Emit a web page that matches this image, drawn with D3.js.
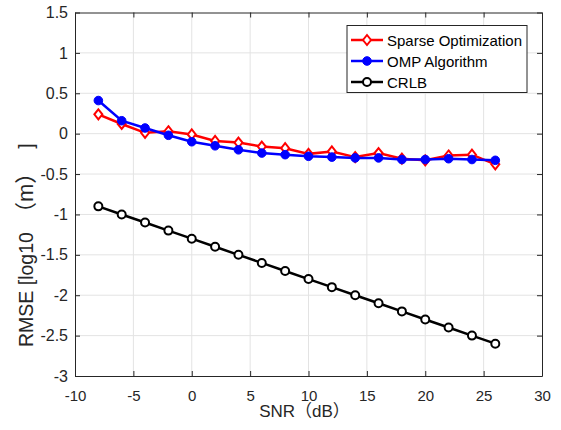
<!DOCTYPE html>
<html>
<head>
<meta charset="utf-8">
<script src="https://cdn.jsdelivr.net/npm/d3@7"></script>
<style>
  body { margin: 0; background: #fff; }
  svg { font-family: "Liberation Sans", Arial, "Noto Sans CJK SC", sans-serif; }
</style>
</head>
<body>
<div id="chart"></div>
<script>
var width = 561, height = 430;

var snr = [-8, -6, -4, -2, 0, 2, 4, 6, 8, 10, 12, 14, 16, 18, 20, 22, 24, 26];
var sparseOpt = [0.24, 0.12, 0.01, 0.03, -0.01, -0.09, -0.11, -0.16, -0.18, -0.25, -0.22, -0.29, -0.24, -0.31, -0.33, -0.27, -0.26, -0.38];
var ompAlg = [0.41, 0.16, 0.07, -0.02, -0.10, -0.15, -0.20, -0.24, -0.26, -0.28, -0.29, -0.30, -0.30, -0.32, -0.32, -0.31, -0.32, -0.33];
var crlb = [-0.9, -1.0, -1.1, -1.2, -1.3, -1.4, -1.5, -1.6, -1.7, -1.8, -1.9, -2.0, -2.1, -2.2, -2.3, -2.4, -2.5, -2.6];
var xTicks = [-10, -5, 0, 5, 10, 15, 20, 25, 30];
var yTicks = [-3, -2.5, -2, -1.5, -1, -0.5, 0, 0.5, 1, 1.5];
var seriesNames = ['Sparse Optimization', 'OMP Algorithm', 'CRLB'];

var mLeft = 75, mRight = 542, mTop = 12.5, mBottom = 376;
var axisColor = '#262626';
var cjkFont = '"Liberation Sans", Arial, "Noto Sans CJK SC", sans-serif';

var x = d3.scaleLinear().domain([-10, 30]).range([mLeft, mRight]);
var y = d3.scaleLinear().domain([-3, 1.5]).range([mBottom, mTop]);

var svg = d3.select('#chart').append('svg')
    .attr('width', width)
    .attr('height', height);

var fmt = (d) => String(d);

// grid
svg.append('g').selectAll('line').data(xTicks.slice(1, -1)).enter().append('line')
    .attr('x1', (d) => x(d)).attr('x2', (d) => x(d))
    .attr('y1', mTop).attr('y2', mBottom)
    .attr('stroke', '#e3e3e3').attr('stroke-width', 1);
svg.append('g').selectAll('line').data(yTicks.slice(1, -1)).enter().append('line')
    .attr('x1', mLeft).attr('x2', mRight)
    .attr('y1', (d) => y(d)).attr('y2', (d) => y(d))
    .attr('stroke', '#e3e3e3').attr('stroke-width', 1);

// axes (ticks inside, box on)
var xAxis = svg.append('g')
    .attr('transform', 'translate(0,' + mBottom + ')')
    .call(d3.axisBottom(x).tickValues(xTicks).tickSizeInner(-5).tickSizeOuter(0).tickPadding(14).tickFormat(fmt));
var yAxis = svg.append('g')
    .attr('transform', 'translate(' + mLeft + ',0)')
    .call(d3.axisLeft(y).tickValues(yTicks).tickSizeInner(-5).tickSizeOuter(0).tickFormat(fmt));
var xTop = svg.append('g')
    .attr('transform', 'translate(0,' + mTop + ')')
    .call(d3.axisTop(x).tickValues(xTicks).tickSizeInner(-5).tickSizeOuter(0).tickFormat(''));
var yRight = svg.append('g')
    .attr('transform', 'translate(' + mRight + ',0)')
    .call(d3.axisRight(y).tickValues(yTicks).tickSizeInner(-5).tickSizeOuter(0).tickFormat(''));

[xAxis, yAxis, xTop, yRight].forEach(function (a) {
    a.select('.domain').attr('stroke', axisColor);
    a.selectAll('.tick line').attr('stroke', axisColor);
    a.selectAll('.tick text').attr('fill', axisColor);
});
xAxis.selectAll('.tick text').attr('font-size', 15).attr('font-family', '"Liberation Sans", Arial, sans-serif');
yAxis.selectAll('.tick text').attr('font-size', 16).attr('font-family', '"Liberation Sans", Arial, sans-serif')
    .attr('x', -7);

// axis labels
svg.append('text')
    .attr('x', (mLeft + mRight) / 2 - 4)
    .attr('y', 417)
    .attr('text-anchor', 'middle')
    .attr('font-size', 17)
    .attr('font-family', cjkFont)
    .attr('fill', axisColor)
    .text('SNR（dB）');
var yl = svg.append('text')
    .attr('transform', 'translate(33,' + 347 + ') rotate(-90)')
    .attr('text-anchor', 'start')
    .attr('font-size', 19.5)
    .attr('font-family', cjkFont)
    .attr('fill', axisColor);
yl.append('tspan').text('RMSE [log10');
yl.append('tspan').attr('dx', 8).attr('font-size', 22).text('（m）');
yl.append('tspan').attr('dx', 24).text(']');

var line = d3.line().x((d) => x(d[0])).y((d) => y(d[1]));

var series = [
    { name: seriesNames[0], values: sparseOpt, color: '#ff0000', marker: 'diamond' },
    { name: seriesNames[1], values: ompAlg, color: '#0000ff', marker: 'dot' },
    { name: seriesNames[2], values: crlb, color: '#000000', marker: 'circle' }
];

function drawMarker(g, s, cx, cy) {
    if (s.marker === 'diamond') {
        var r = 5;
        g.append('path')
            .attr('d', 'M' + cx + ',' + (cy - r) + 'L' + (cx + r * 0.8) + ',' + cy + 'L' + cx + ',' + (cy + r) + 'L' + (cx - r * 0.8) + ',' + cy + 'Z')
            .attr('fill', '#fff').attr('stroke', s.color).attr('stroke-width', 2);
    } else if (s.marker === 'dot') {
        g.append('circle').attr('cx', cx).attr('cy', cy).attr('r', 4.3)
            .attr('fill', s.color).attr('stroke', s.color).attr('stroke-width', 1);
    } else {
        g.append('circle').attr('cx', cx).attr('cy', cy).attr('r', 4)
            .attr('fill', '#fff').attr('stroke', s.color).attr('stroke-width', 2);
    }
}

series.forEach(function (s) {
    var pts = snr.map((v, i) => [v, s.values[i]]);
    var g = svg.append('g');
    g.append('path')
        .datum(pts)
        .attr('d', line)
        .attr('fill', 'none')
        .attr('stroke', s.color)
        .attr('stroke-width', 2.5);
    pts.forEach(function (p) { drawMarker(g, s, x(p[0]), y(p[1])); });
});

// legend
var lg = svg.append('g');
lg.append('rect')
    .attr('x', 347).attr('y', 25.5).attr('width', 180).attr('height', 67)
    .attr('fill', '#fff').attr('stroke', axisColor).attr('stroke-width', 1);
series.forEach(function (s, i) {
    var ly = 40 + i * 21;
    lg.append('line')
        .attr('x1', 351).attr('x2', 383).attr('y1', ly).attr('y2', ly)
        .attr('stroke', s.color).attr('stroke-width', 2.5);
    drawMarker(lg, s, 367, ly);
    lg.append('text')
        .attr('x', 387).attr('y', ly + 5.5)
        .attr('font-size', 15)
        .attr('fill', '#000')
        .text(s.name);
});
</script>
</body>
</html>
